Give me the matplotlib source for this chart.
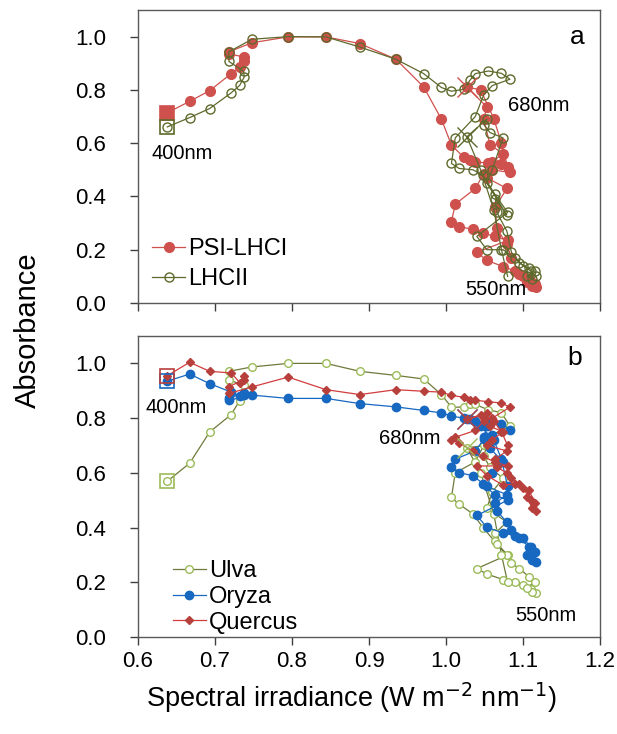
import numpy as np
import matplotlib
matplotlib.use('Agg')
import matplotlib.pyplot as plt

plt.rcParams['font.family'] = ['Liberation Sans', 'DejaVu Sans']

# spectral irradiance, shared by all spectra (one value per wavelength step)
irradiance = [0.638, 0.667, 0.693, 0.721, 0.732, 0.738, 0.737, 0.718, 0.718, 0.748,
              0.795, 0.844, 0.888, 0.935, 0.971, 0.994, 1.007, 1.023, 1.031, 1.038,
              1.055, 1.072, 1.083, 1.060, 1.049, 1.038, 1.012, 1.007, 1.017, 1.035,
              1.048, 1.063, 1.080, 1.040, 1.053, 1.074, 1.090, 1.100, 1.110, 1.117,
              1.112, 1.105, 1.115, 1.108, 1.095, 1.085, 1.079, 1.066, 1.064, 1.079,
              1.053, 1.060, 1.074, 1.057, 1.049, 1.053, 1.027, 1.045, 1.062, 1.072,
              1.080]

psi_lhci = [0.714, 0.757, 0.797, 0.861, 0.886, 0.910, 0.924, 0.935, 0.943, 0.977,
            0.999, 0.999, 0.974, 0.915, 0.811, 0.690, 0.593, 0.547, 0.538, 0.530,
            0.525, 0.520, 0.490, 0.500, 0.486, 0.430, 0.371, 0.305, 0.286, 0.277,
            0.263, 0.250, 0.235, 0.190, 0.160, 0.137, 0.120, 0.100, 0.080, 0.060,
            0.065, 0.080, 0.070, 0.090, 0.110, 0.170, 0.220, 0.280, 0.360, 0.430,
            0.470, 0.530, 0.560, 0.595, 0.690, 0.736, 0.811, 0.800, 0.692, 0.600,
            0.510]

lhcii = [0.661, 0.696, 0.730, 0.789, 0.817, 0.849, 0.870, 0.907, 0.943, 0.990,
         1.000, 0.999, 0.961, 0.915, 0.861, 0.809, 0.795, 0.802, 0.836, 0.861,
         0.871, 0.862, 0.840, 0.816, 0.782, 0.700, 0.620, 0.524, 0.505, 0.500,
         0.480, 0.410, 0.340, 0.250, 0.200, 0.200, 0.170, 0.140, 0.120, 0.100,
         0.090, 0.100, 0.120, 0.130, 0.150, 0.190, 0.270, 0.340, 0.390, 0.330,
         0.450, 0.500, 0.620, 0.640, 0.670, 0.690, 0.624, 0.500, 0.350, 0.200,
         0.100]

ulva = [0.569, 0.635, 0.749, 0.813, 0.864, 0.890, 0.920, 0.940, 0.971, 0.987,
        1.000, 1.000, 0.971, 0.956, 0.943, 0.886, 0.840, 0.840, 0.850, 0.850,
        0.830, 0.820, 0.770, 0.740, 0.700, 0.640, 0.600, 0.510, 0.485, 0.450,
        0.400, 0.350, 0.300, 0.250, 0.230, 0.210, 0.200, 0.190, 0.175, 0.160,
        0.165, 0.180, 0.200, 0.220, 0.250, 0.270, 0.300, 0.340, 0.380, 0.420,
        0.470, 0.530, 0.580, 0.620, 0.660, 0.700, 0.692, 0.600, 0.450, 0.300,
        0.200]

oryza = [0.935, 0.961, 0.926, 0.895, 0.880, 0.885, 0.890, 0.874, 0.865, 0.884,
         0.872, 0.872, 0.853, 0.841, 0.828, 0.819, 0.807, 0.800, 0.795, 0.790,
         0.785, 0.780, 0.757, 0.740, 0.722, 0.680, 0.650, 0.620, 0.600, 0.590,
         0.560, 0.520, 0.500, 0.444, 0.401, 0.380, 0.370, 0.360, 0.330, 0.274,
         0.280, 0.300, 0.310, 0.330, 0.360, 0.390, 0.420, 0.460, 0.490, 0.520,
         0.550, 0.600, 0.640, 0.690, 0.730, 0.770, 0.795, 0.770, 0.720, 0.650,
         0.550]

quercus = [0.955, 1.004, 0.971, 0.965, 0.930, 0.955, 0.940, 0.915, 0.890, 0.914,
           0.950, 0.904, 0.886, 0.904, 0.898, 0.895, 0.883, 0.876, 0.867, 0.865,
           0.860, 0.855, 0.840, 0.800, 0.789, 0.755, 0.730, 0.720, 0.710, 0.680,
           0.660, 0.640, 0.625, 0.625, 0.590, 0.555, 0.560, 0.545, 0.500, 0.462,
           0.470, 0.512, 0.490, 0.536, 0.559, 0.580, 0.600, 0.620, 0.650, 0.680,
           0.700, 0.720, 0.750, 0.770, 0.800, 0.820, 0.795, 0.810, 0.790, 0.750,
           0.700]

i680 = 56  # index of the 680 nm point
x = np.array(irradiance)

fig = plt.figure(figsize=(6.17, 7.34), dpi=100)
ax1 = fig.add_axes([0.2237, 0.5872, 0.7488, 0.3992])
ax2 = fig.add_axes([0.2237, 0.1322, 0.7488, 0.4100])

red = '#cf514d'
olive = '#5e6a2c'
lgreen = '#9bbb59'
uline = '#6f7a3c'
blue = '#1668c0'
qred = '#b8403c'
qline = '#d23c3c'


def draw(ax, y, line_c, mk, mfc, mec, ms, label, sq_fill, sq_c, x_c):
    y = np.array(y)
    ax.plot(x, y, '-', color=line_c, lw=0.9, marker=mk, ms=ms, mfc=mfc, mec=mec,
            mew=1.0, label=label, zorder=3)
    ax.plot(x[0], y[0], 's', ms=9.5, mfc=sq_fill, mec=sq_c, mew=1.2, zorder=4)
    ax.plot(x[i680], y[i680], 'x', ms=14, color=x_c, mew=1.0, zorder=4)


draw(ax1, psi_lhci, red, 'o', red, red, 7, 'PSI-LHCI', red, red, red)
draw(ax1, lhcii, olive, 'o', 'none', olive, 6.5, 'LHCII', 'none', olive, olive)

draw(ax2, ulva, uline, 'o', 'white', lgreen, 5.5, 'Ulva', 'none', lgreen, lgreen)
draw(ax2, oryza, blue, 'o', blue, blue, 6, 'Oryza', 'none', blue, blue)
draw(ax2, quercus, qline, 'D', qred, qred, 4.5, 'Quercus', 'none', qred, qred)

for ax in (ax1, ax2):
    ax.set_xlim(0.6, 1.2)
    ax.set_ylim(0, 1.1)
    ax.set_xticks(np.arange(0.6, 1.21, 0.1))
    ax.set_yticks(np.arange(0, 1.01, 0.2))
    ax.yaxis.set_major_formatter(matplotlib.ticker.FormatStrFormatter('%.1f'))
    ax.xaxis.set_major_formatter(matplotlib.ticker.FormatStrFormatter('%.1f'))
    ax.tick_params(direction='out', length=6, width=1, colors='#404040',
                   labelsize=16, labelcolor='black')
    ax.tick_params(axis='y', pad=17)
    ax.tick_params(axis='x', pad=4)
    for s in ax.spines.values():
        s.set_color('#595959')
        s.set_linewidth(1)

ax1.tick_params(labelbottom=False)

ax1.text(0.617, 0.56, '400nm', fontsize=14.5, ha='left', va='center')
ax1.text(1.081, 0.74, '680nm', fontsize=14.5, ha='left', va='center')
ax1.text(1.025, 0.05, '550nm', fontsize=14.5, ha='left', va='center')
ax1.text(1.18, 1.0, 'a', fontsize=19, ha='right', va='center')

ax2.text(0.61, 0.84, '400nm', fontsize=14.5, ha='left', va='center')
ax2.text(0.913, 0.727, '680nm', fontsize=14.5, ha='left', va='center')
ax2.text(1.09, 0.08, '550nm', fontsize=14.5, ha='left', va='center')
ax2.text(1.177, 1.018, 'b', fontsize=19, ha='right', va='center')

ax1.legend(loc='lower left', bbox_to_anchor=(0.01, 0.012), frameon=False,
           fontsize=17, handlelength=1.4, handletextpad=0.13, labelspacing=0.33,
           borderaxespad=0.0)
ax2.legend(loc='lower left', bbox_to_anchor=(0.055, -0.02), frameon=False,
           fontsize=17, handlelength=1.4, handletextpad=0.13, labelspacing=0.15,
           borderaxespad=0.0)

fig.text(0.570, 0.073, 'Spectral irradiance (W m$^{-2}$ nm$^{-1}$)', fontsize=19.5,
         ha='center', va='top')
fig.text(0.045, 0.55, 'Absorbance', rotation=90, fontsize=21, ha='center', va='center')

fig.savefig('out.png', dpi=100)
